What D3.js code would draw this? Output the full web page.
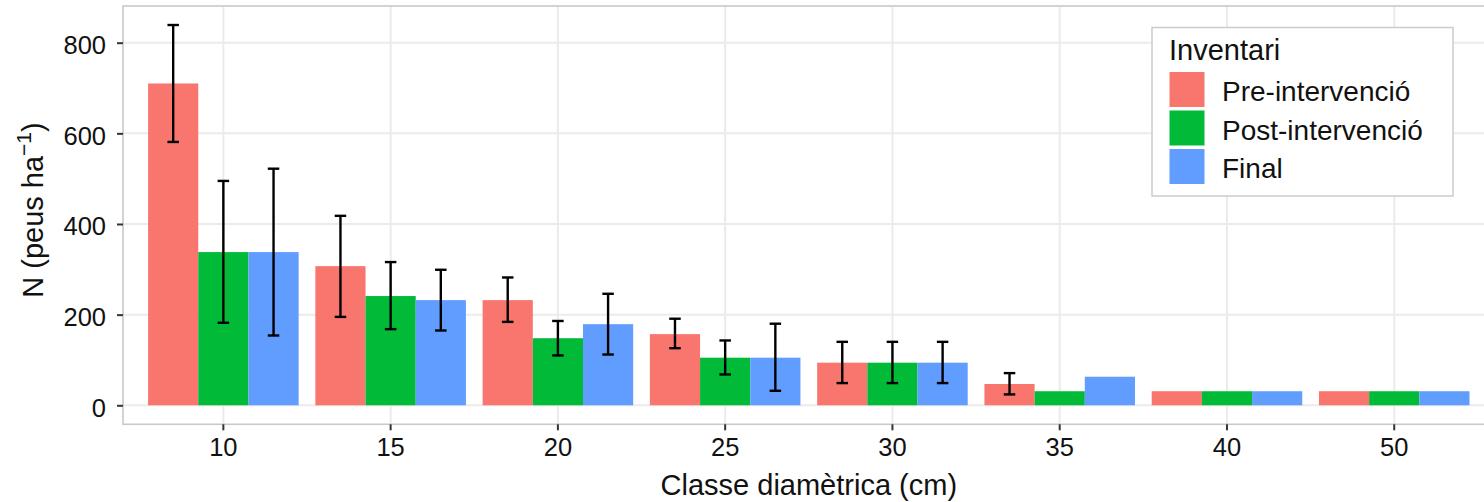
<!DOCTYPE html>
<html>
<head>
<meta charset="utf-8">
<script src="https://cdn.jsdelivr.net/npm/d3@7"></script>
<style>
  html, body { margin: 0; padding: 0; background: #fff; }
  svg { display: block; font-family: "Liberation Sans", Arial, sans-serif; }
</style>
</head>
<body>
<svg id="chart" width="1484" height="502"></svg>
<script>
// ---- data ----
const categories = ["10", "15", "20", "25", "30", "35", "40", "50"];
const seriesNames = ["Pre-intervenció", "Post-intervenció", "Final"];
const seriesColors = ["#F8766D", "#00BA38", "#619CFF"];

const preValues   = [710, 307, 232, 157, 94, 47, 31, 31];
const postValues  = [338, 241, 148, 105, 94, 31, 31, 31];
const finalValues = [338, 232, 179, 105, 94, 63, 31, 31];

const preLow   = [581, 195, 184, 126, 49, 24, null, null];
const preHigh  = [839, 418, 282, 191, 140, 71, null, null];
const postLow  = [182, 168, 110, 68, 49, null, null, null];
const postHigh = [495, 316, 186, 143, 140, null, null, null];
const finalLow  = [154, 165, 112, 32, 49, null, null, null];
const finalHigh = [522, 299, 246, 180, 140, null, null, null];

const yTicks = [0, 200, 400, 600, 800];

const xTitle = "Classe diamètrica (cm)";
const legendTitle = "Inventari";

// ---- build table ----
const valuesBySeries = [preValues, postValues, finalValues];
const lowBySeries = [preLow, postLow, finalLow];
const highBySeries = [preHigh, postHigh, finalHigh];
const rows = [];
seriesNames.forEach((s, si) => {
  categories.forEach((c, ci) => {
    rows.push({ series: s, si, cat: c, value: valuesBySeries[si][ci],
                lo: lowBySeries[si][ci], hi: highBySeries[si][ci] });
  });
});

// ---- layout ----
const svg = d3.select("#chart");
const panel = { left: 123, right: 1494.6, top: 6, bottom: 424.3 };

const maxVal = d3.max(rows, d => Math.max(d.value, d.hi == null ? 0 : d.hi));
const ext = maxVal * 0.05;
const y = d3.scaleLinear().domain([-ext, maxVal + ext]).range([panel.bottom, panel.top]);

const x = d3.scaleBand().domain(categories).range([panel.left, panel.right])
  .paddingInner(0.1).paddingOuter(0.15);
const xs = d3.scaleBand().domain(seriesNames).range([0, x.bandwidth()]).padding(0);
const color = d3.scaleOrdinal().domain(seriesNames).range(seriesColors);

// grid
const grid = svg.append("g");
grid.selectAll("line.h").data(yTicks).join("line")
  .attr("x1", panel.left).attr("x2", panel.right)
  .attr("y1", d => y(d)).attr("y2", d => y(d))
  .attr("stroke", "#EBEBEB").attr("stroke-width", 2);
grid.selectAll("line.v").data(categories).join("line")
  .attr("x1", d => x(d) + x.bandwidth() / 2).attr("x2", d => x(d) + x.bandwidth() / 2)
  .attr("y1", panel.top).attr("y2", panel.bottom)
  .attr("stroke", "#EBEBEB").attr("stroke-width", 2);

// bars
svg.append("g").selectAll("rect").data(rows).join("rect")
  .attr("x", d => x(d.cat) + xs(d.series))
  .attr("width", xs.bandwidth())
  .attr("y", d => y(d.value))
  .attr("height", d => y(0) - y(d.value))
  .attr("fill", d => color(d.series));

// error bars
const eb = rows.filter(d => d.lo != null && d.hi != null);
const capW = 11.5;
const ebg = svg.append("g").attr("stroke", "#000").attr("stroke-width", 2.4);
eb.forEach(d => {
  const cx = x(d.cat) + xs(d.series) + xs.bandwidth() / 2;
  ebg.append("line").attr("x1", cx).attr("x2", cx).attr("y1", y(d.lo)).attr("y2", y(d.hi));
  ebg.append("line").attr("x1", cx - capW / 2).attr("x2", cx + capW / 2).attr("y1", y(d.lo)).attr("y2", y(d.lo));
  ebg.append("line").attr("x1", cx - capW / 2).attr("x2", cx + capW / 2).attr("y1", y(d.hi)).attr("y2", y(d.hi));
});

// panel border
svg.append("rect").attr("x", panel.left).attr("y", panel.top)
  .attr("width", panel.right - panel.left).attr("height", panel.bottom - panel.top)
  .attr("fill", "none").attr("stroke", "#C9C9C9").attr("stroke-width", 1.6);

// axes
const yAxis = svg.append("g").attr("transform", `translate(${panel.left},0)`)
  .call(d3.axisLeft(y).tickValues(yTicks).tickSize(6).tickPadding(11).tickFormat(d3.format("d")));
yAxis.select(".domain").remove();
yAxis.selectAll(".tick line").attr("stroke", "#333").attr("stroke-width", 2);
yAxis.selectAll(".tick text").attr("font-size", 25.5).attr("fill", "#111")
  .attr("font-family", "Liberation Sans, Arial, sans-serif").attr("dy", "0.42em");

const xAxis = svg.append("g").attr("transform", `translate(0,${panel.bottom})`)
  .call(d3.axisBottom(x).tickSize(6).tickPadding(8));
xAxis.select(".domain").remove();
xAxis.selectAll(".tick line").attr("stroke", "#333").attr("stroke-width", 2);
xAxis.selectAll(".tick text").attr("font-size", 25.5).attr("fill", "#111")
  .attr("font-family", "Liberation Sans, Arial, sans-serif");

// axis titles
svg.append("text").attr("x", (panel.left + panel.right) / 2).attr("y", 495)
  .attr("text-anchor", "middle").attr("font-size", 29).attr("fill", "#111").text(xTitle);

const yt = svg.append("text").attr("transform", "translate(43,210) rotate(-90)")
  .attr("text-anchor", "middle").attr("font-size", 29).attr("fill", "#111");
yt.append("tspan").text("N (peus ha");
yt.append("tspan").attr("font-size", 21).attr("dy", -12).text("−1");
yt.append("tspan").attr("dy", 12).text(")");

// legend
const lg = svg.append("g");
lg.append("rect").attr("x", 1152).attr("y", 27.5).attr("width", 301).attr("height", 168.5)
  .attr("fill", "#fff").attr("stroke", "#CCCCCC").attr("stroke-width", 1.5);
lg.append("text").attr("x", 1169).attr("y", 60).attr("font-size", 29).attr("fill", "#111").text(legendTitle);
seriesNames.forEach((s, i) => {
  const ky = 72 + i * 38.5;
  lg.append("rect").attr("x", 1169.5).attr("y", ky).attr("width", 35).attr("height", 35)
    .attr("fill", color(s));
  lg.append("text").attr("x", 1222).attr("y", ky + 17.5 + 11.5)
    .attr("font-size", 28).attr("fill", "#111").text(s);
});
</script>
</body>
</html>
